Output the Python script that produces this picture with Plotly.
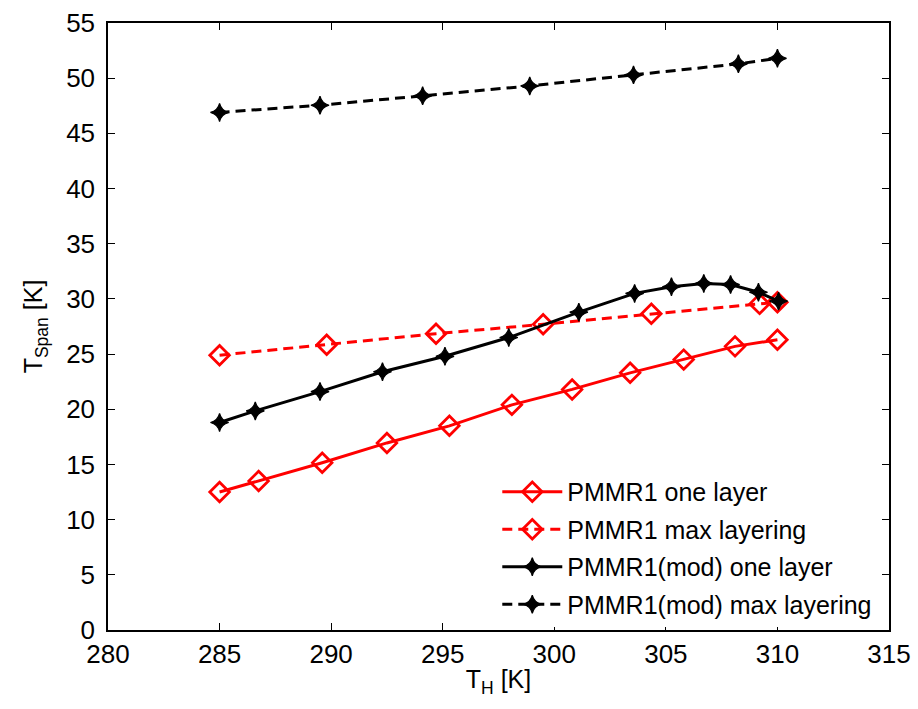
import plotly.graph_objects as go

# PMMR1, single layer
th_pmmr1_one = [285, 286.75, 289.6, 292.5, 295.3, 298.1, 300.8, 303.4, 305.8, 308.1, 310]
span_pmmr1_one = [12.5, 13.5, 15.15, 16.95, 18.5, 20.4, 21.8, 23.3, 24.5, 25.7, 26.3]

# PMMR1, maximum layering
th_pmmr1_max = [285, 289.8, 294.7, 299.5, 304.35, 309.2, 310]
span_pmmr1_max = [24.9, 25.85, 26.85, 27.7, 28.65, 29.55, 29.7]

# PMMR1(mod), single layer
th_mod_one = [285, 286.6, 289.5, 292.3, 295.1, 297.96, 301.1, 303.6, 305.25, 306.7, 307.9, 309.15, 310.05]
span_mod_one = [18.8, 19.85, 21.6, 23.4, 24.8, 26.5, 28.8, 30.5, 31.1, 31.4, 31.3, 30.6, 29.8]

# PMMR1(mod), maximum layering
th_mod_max = [285, 289.5, 294.1, 298.9, 303.55, 308.25, 310]
span_mod_max = [46.9, 47.55, 48.4, 49.3, 50.3, 51.3, 51.8]

x_ticks = [280, 285, 290, 295, 300, 305, 310, 315]
y_ticks = [0, 5, 10, 15, 20, 25, 30, 35, 40, 45, 50, 55]

FONT = "Liberation Sans, Arial, sans-serif"

red_marker = dict(symbol="diamond-open", size=15, color="#ff0000",
                  line=dict(width=2.8, color="#ff0000"))
black_marker = dict(symbol="star-diamond", size=13, color="#000000",
                    line=dict(width=1.2, color="#000000"))

fig = go.Figure()
fig.add_trace(go.Scatter(
    x=th_pmmr1_one, y=span_pmmr1_one, mode="lines+markers",
    name="PMMR1 one layer", legendgroup="a",
    line=dict(color="#ff0000", width=3), marker=red_marker))
fig.add_trace(go.Scatter(
    x=th_pmmr1_max, y=span_pmmr1_max, mode="lines+markers",
    name="PMMR1 max layering", legendgroup="b",
    line=dict(color="#ff0000", width=3, dash="10px,6px"), marker=red_marker))
fig.add_trace(go.Scatter(
    x=th_mod_one, y=span_mod_one, mode="lines+markers",
    name="PMMR1(mod) one layer", legendgroup="c",
    line=dict(color="#000000", width=3), marker=black_marker))
fig.add_trace(go.Scatter(
    x=th_mod_max, y=span_mod_max, mode="lines+markers",
    name="PMMR1(mod) max layering", legendgroup="d",
    line=dict(color="#000000", width=3, dash="10px,6px"), marker=black_marker))

axis_common = dict(
    showgrid=False, zeroline=False, showline=True, linecolor="black",
    linewidth=1.5, mirror="ticks", ticks="inside", ticklen=7,
    tickwidth=1, tickcolor="black", automargin=False,
    tickfont=dict(family=FONT, size=26, color="black"),
)

fig.update_layout(
    width=918, height=709,
    margin=dict(l=108, r=29, t=23, b=79),
    paper_bgcolor="white", plot_bgcolor="white",
    font=dict(family=FONT, color="black"),
    xaxis=dict(range=[280, 315], tickvals=x_ticks,
               ticktext=[str(v) for v in x_ticks],
               ticklabelstandoff=0,
               title=dict(text="T<sub>H</sub> [K]", font=dict(family=FONT, size=25),
                          standoff=3),
               **axis_common),
    yaxis=dict(range=[0, 55], tickvals=y_ticks,
               ticktext=[str(v) for v in y_ticks],
               ticklabelstandoff=6,
               title=dict(text="T<sub>Span</sub> [K]", font=dict(family=FONT, size=25),
                          standoff=16),
               **axis_common),
    legend=dict(x=0.985, y=0.005, xanchor="right", yanchor="bottom",
                bgcolor="white", borderwidth=0,
                font=dict(family=FONT, size=25, color="black"),
                tracegroupgap=2, itemwidth=60),
    showlegend=True,
)

fig.write_html("out.html")
